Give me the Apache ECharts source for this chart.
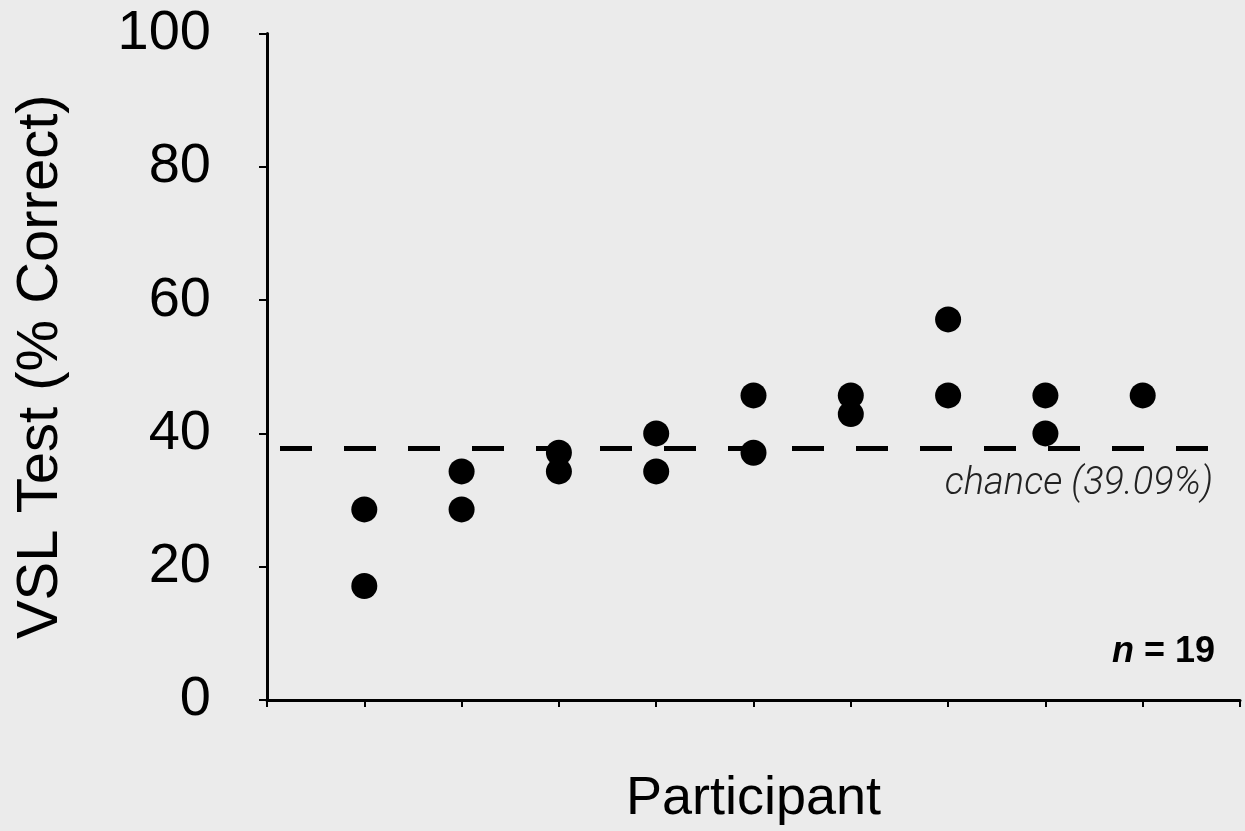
<!DOCTYPE html>
<html>
<head>
<meta charset="utf-8">
<script src="https://cdn.jsdelivr.net/npm/echarts@6/dist/echarts.min.js"></script>
<style>
  html, body { margin: 0; padding: 0; background: #ebebeb; }
  #chart { width: 1245px; height: 831px; }
</style>
</head>
<body>
<div id="chart"></div>
<script>
// Data
const participants = [1, 2, 3, 4, 5, 6, 7, 8, 9];
const scoresHigh = [28.6, 34.3, 37.1, 40.0, 45.7, 45.7, 57.1, 45.7, 45.7];
const scoresLow  = [17.1, 28.6, 34.3, 34.3, 37.1, 42.9, 45.7, 40.0, null];
const chanceLevel = 37.8;
const chanceLabel = 'chance (39.09%)';
const nLabel = '{i|n} = 19';
const yTicks = [0, 20, 40, 60, 80, 100];

const points = [];
participants.forEach((p, i) => {
  if (scoresHigh[i] != null) points.push([p, scoresHigh[i]]);
  if (scoresLow[i] != null) points.push([p, scoresLow[i]]);
});

const chart = echarts.init(document.getElementById('chart'));
const mainFont = 'Liberation Sans, Arial, Helvetica, sans-serif';

chart.setOption({
  backgroundColor: '#ebebeb',
  animation: false,
  grid: { left: 267, right: 5, top: 33.5, bottom: 130, containLabel: false },
  xAxis: {
    type: 'value',
    min: 0, max: participants.length + 1, interval: 1,
    name: 'Participant',
    nameLocation: 'middle',
    nameGap: 72,
    nameTextStyle: { fontFamily: mainFont, fontSize: 54, color: '#000' },
    axisLine: { show: true, onZero: false, lineStyle: { color: '#000', width: 3 } },
    axisTick: { show: true, inside: false, length: 7, lineStyle: { color: '#000', width: 2 } },
    axisLabel: { show: false },
    splitLine: { show: false }
  },
  yAxis: {
    type: 'value',
    min: yTicks[0], max: yTicks[yTicks.length - 1], interval: 20,
    name: 'VSL Test (% Correct)',
    nameLocation: 'middle',
    nameGap: 197,
    nameTextStyle: { fontFamily: mainFont, fontSize: 58, color: '#000' },
    axisLine: { show: true, lineStyle: { color: '#000', width: 3 } },
    axisTick: { show: true, inside: false, length: 8, lineStyle: { color: '#000', width: 2 } },
    axisLabel: { fontFamily: mainFont, fontSize: 56, color: '#000', margin: 56 },
    splitLine: { show: false }
  },
  series: [{
    type: 'scatter',
    data: points,
    symbol: 'circle',
    symbolSize: 26,
    itemStyle: { color: '#000', opacity: 1 },
    z: 3,
    markLine: {
      silent: true,
      symbol: 'none',
      z: 2,
      label: { show: false },
      lineStyle: { color: '#000', width: 5, type: [32, 32], dashOffset: 51 },
      data: [{ yAxis: chanceLevel }]
    }
  }],
  graphic: [
    {
      type: 'text',
      x: 1213, y: 484,
      style: {
        text: chanceLabel,
        textAlign: 'right', textVerticalAlign: 'middle',
        fontFamily: 'Roboto, Open Sans, sans-serif',
        fontWeight: 300, fontStyle: 'italic',
        fontSize: 38, fill: '#222'
      }
    },
    {
      type: 'text',
      x: 1215, y: 652,
      style: {
        text: nLabel,
        textAlign: 'right', textVerticalAlign: 'middle',
        fontFamily: mainFont, fontWeight: 'bold', fontSize: 36, fill: '#000',
        rich: {
          i: { fontFamily: mainFont, fontWeight: 'bold', fontStyle: 'italic', fontSize: 36, fill: '#000' }
        }
      }
    }
  ]
});
</script>
</body>
</html>
